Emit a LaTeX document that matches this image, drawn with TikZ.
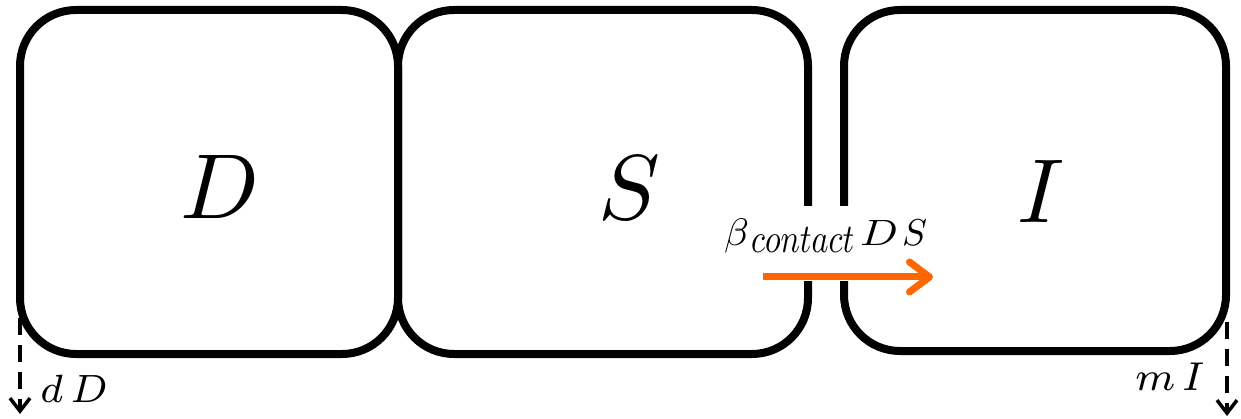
\IfFileExists{fix-cm.sty}{\RequirePackage{fix-cm}}{}
\documentclass[tikz,border=0pt]{standalone}
\usepackage{graphicx}
\usetikzlibrary{arrows.meta}
\definecolor{flow}{HTML}{FF6600}
\font\miseven=cmmi7 at 7pt
\tikzset{
  compartment/.style={draw=black, line width=8pt, rounded corners=56pt, inner sep=0pt, fill=none},
  bigletter/.style={inner sep=0pt},
  ratelabel/.style={inner sep=0pt, anchor=base},
  exitarrow/.style={line width=3.5pt, dash pattern=on 17pt off 10pt, -{Straight Barb[length=13pt,width=20pt,line width=3.5pt]}},
  flowarrow/.style={draw=flow, line width=7pt, -{Straight Barb[length=20pt,width=30pt,line width=7pt,round]}},
}
\begin{document}
\begin{tikzpicture}[x=1pt, y=-1pt]
  \useasboundingbox (0,0) rectangle (1241,419);
  \node[compartment, minimum width=378pt, minimum height=344pt] (D) at (209,182) {};
  \node[compartment, minimum width=410pt, minimum height=344pt] (S) at (603,182) {};
  \node[compartment, minimum width=382pt, minimum height=341pt] (I) at (1035,180.5) {};
  \node[bigletter] (Dl) at (220,187) {\resizebox{!}{63pt}{$D$}};
  \node[bigletter] (Sl) at (629,187.5) {\resizebox{!}{63pt}{$S$}};
  \node[bigletter] (Il) at (1041,191) {\resizebox{!}{62pt}{$I$}};
  % transmission label with white background covering borders
  \node[fill=white, inner xsep=3pt, inner ysep=0pt, text height=40pt, text depth=35pt, anchor=base west] (beta)
        at (721,246) {\resizebox*{25pt}{34pt}{$\beta$}\hspace{2pt}\raisebox{-6pt}{\resizebox{103pt}{25pt}{$contact$}}\hspace{6pt}\resizebox{38pt}{25pt}{$D$}\hspace{4pt}\resizebox{25pt}{25.5pt}{$S$}};
  \coordinate (fs) at (763,277);
  \coordinate (fe) at (933,277);
  \draw[flowarrow] (fs) -- (fe);
  % exits
  \coordinate (dDs) at (20,318);
  \coordinate (dDe) at (20,414);
  \coordinate (mIs) at (1227,322);
  \coordinate (mIe) at (1227,416);
  \draw[exitarrow] (dDs) -- (dDe);
  \draw[exitarrow] (mIs) -- (mIe);
  \node[ratelabel] (dD) at (73.5,402) {\resizebox{67pt}{!}{\miseven d\hspace{1.2pt}D}};
  \node[ratelabel] (mI) at (1168.5,390) {\resizebox{67pt}{!}{\miseven m\hspace{1pt}I}};
\end{tikzpicture}
\end{document}
